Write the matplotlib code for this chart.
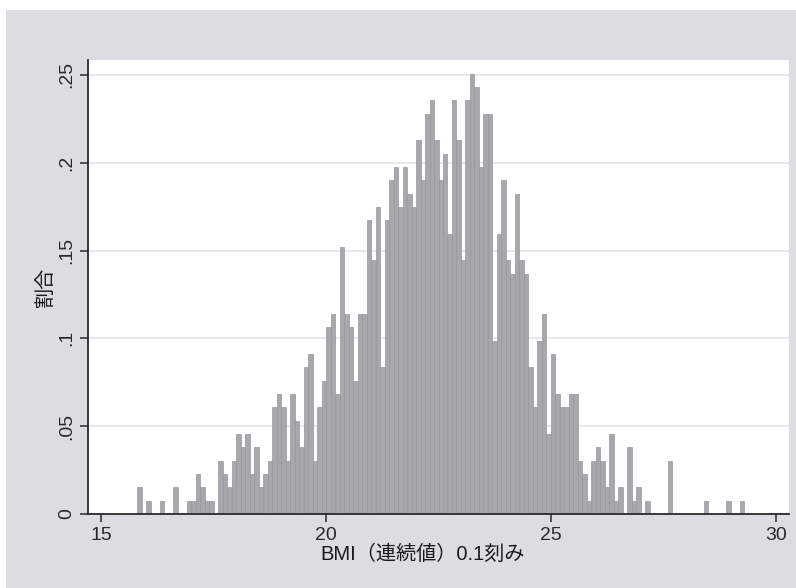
import matplotlib
matplotlib.use("Agg")
import matplotlib.pyplot as plt
from matplotlib.patches import Rectangle
import numpy as np

plt.rcParams['font.family'] = ['Liberation Sans', 'Noto Sans CJK JP', 'DejaVu Sans']

# BMI histogram, bin width 0.1, first bin starts at 15.8
bin_start = 15.8
bin_width = 0.1
counts = [2, 0, 1, 0, 0, 1, 0, 0, 2, 0,
          0, 1, 1, 3, 2, 1, 1, 0, 4, 3,
          2, 4, 6, 5, 6, 3, 5, 2, 3, 4,
          8, 9, 8, 4, 9, 7, 5, 11, 12, 4,
          8, 10, 14, 15, 9, 20, 15, 14, 10, 15,
          15, 22, 19, 23, 11, 22, 25, 26, 23, 26,
          24, 23, 28, 25, 30, 31, 28, 25, 27, 21,
          31, 28, 19, 31, 33, 32, 26, 30, 30, 13,
          21, 25, 19, 18, 24, 19, 18, 11, 8, 13,
          15, 6, 12, 9, 8, 8, 9, 9, 4, 3,
          1, 4, 5, 4, 2, 6, 1, 2, 0, 5,
          1, 2, 0, 1, 0, 0, 0, 0, 4, 0,
          0, 0, 0, 0, 0, 0, 1, 0, 0, 0,
          0, 1, 0, 0, 1]

counts = np.array(counts, dtype=float)
left_edges = bin_start + bin_width * np.arange(len(counts))
density = counts / (counts.sum() * bin_width)

xticks = [15, 20, 25, 30]
yticks = [0, 0.05, 0.1, 0.15, 0.2, 0.25]
ytick_labels = ['0', '.05', '.1', '.15', '.2', '.25']

W, H = 796, 588
fig = plt.figure(figsize=(W / 100, H / 100), dpi=100)
fig.patch.set_facecolor('white')
fig.patches.append(Rectangle((6 / W, 0), 1 - 6 / W, 1 - 10 / H, transform=fig.transFigure,
                             facecolor='#dcdde0', edgecolor='none', zorder=-10))

ax = fig.add_axes([88 / W, (H - 514) / H, (789 - 88) / W, (514 - 60) / H])
ax.set_facecolor('white')

ax.bar(left_edges, density, width=bin_width, align='edge',
       color='#a7a8ac', edgecolor='#97989c', linewidth=0.5, zorder=2)

ax.set_xlim(14.71, 30.29)
ax.set_ylim(0, 0.2585)
ax.set_xticks(xticks)
ax.set_yticks(yticks)
ax.set_yticklabels(ytick_labels, rotation=90, va='center')
ax.grid(axis='y', color='#e3e4e6', linewidth=1.2, zorder=0)

for s in ['top', 'right']:
    ax.spines[s].set_visible(False)
for s in ['left', 'bottom']:
    ax.spines[s].set_color('#2a2a2a')
    ax.spines[s].set_linewidth(1.3)
    ax.spines[s].set_zorder(3)

ax.tick_params(axis='both', colors='#2a2a2a', labelsize=14, length=6, width=1.1)
ax.tick_params(axis='y', pad=3)
ax.tick_params(axis='x', pad=3)

ax.set_xlabel('BMI（連続値）0.1刻み', fontsize=14.5, color='#1a1a1a', x=0.478, labelpad=1)
ax.set_ylabel('割合', fontsize=14.5, color='#1a1a1a')
ax.yaxis.set_label_coords(-0.047, 0.5)

fig.savefig('out.png', dpi=100)
